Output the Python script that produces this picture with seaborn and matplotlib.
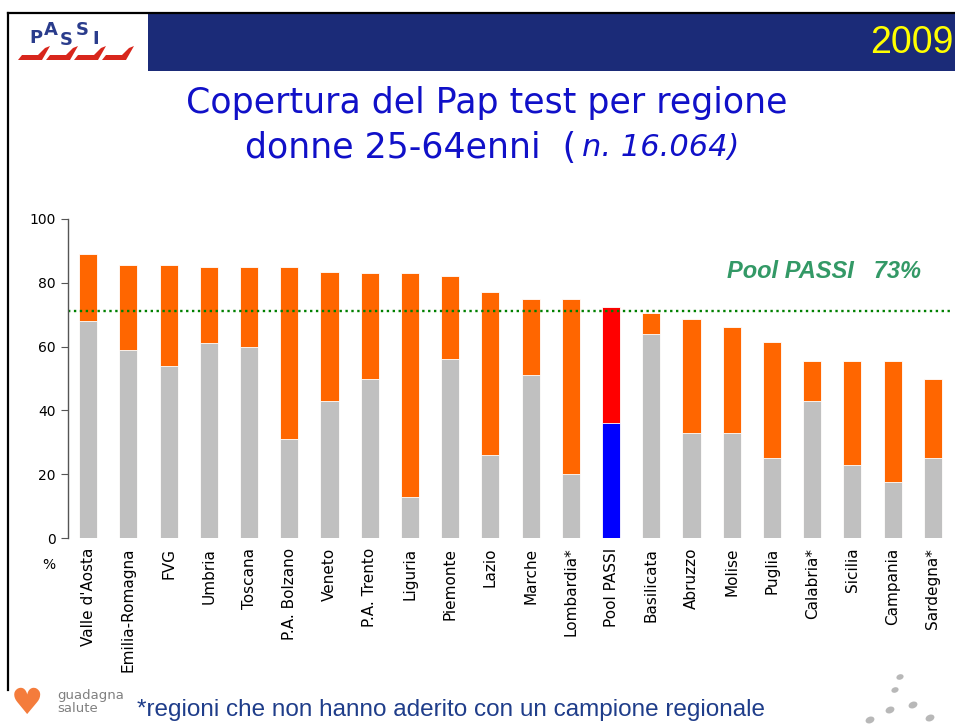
import numpy as np
import pandas as pd
import matplotlib
matplotlib.use("Agg")
import matplotlib.pyplot as plt
import seaborn as sns
from matplotlib.patches import Rectangle, Polygon, Ellipse
from matplotlib.lines import Line2D

# dati
regioni = ["Valle d'Aosta", "Emilia-Romagna", "FVG", "Umbria", "Toscana",
           "P.A. Bolzano", "Veneto", "P.A. Trento", "Liguria", "Piemonte",
           "Lazio", "Marche", "Lombardia*", "Pool PASSI", "Basilicata",
           "Abruzzo", "Molise", "Puglia", "Calabria*", "Sicilia",
           "Campania", "Sardegna*"]
totale = [89, 85.5, 85.5, 85, 85, 85, 83.5, 83, 83, 82,
          77, 75, 75, 72.5, 70.5, 68.5, 66, 61.5, 55.5, 55.5,
          55.5, 50]
organizzato = [68, 59, 54, 61, 60, 31, 43, 50, 13, 56,
               26, 51, 20, 36, 64, 33, 33, 25, 43, 23,
               17.5, 25]
pool_line = 71.3
yticks = [0, 20, 40, 60, 80, 100]

df = pd.DataFrame({"regione": regioni, "totale": totale, "organizzato": organizzato})
col_top = ["#FF0000" if r == "Pool PASSI" else "#FF6600" for r in regioni]
col_bot = ["#0000FF" if r == "Pool PASSI" else "#C0C0C0" for r in regioni]

W, H = 955, 724
fig = plt.figure(figsize=(W / 100, H / 100), dpi=100)
fig.patch.set_facecolor("white")

def fx(x):
    return x / W

def fy(y):
    return 1 - y / H

# cornice e intestazione
fig.add_artist(Line2D([fx(8), fx(8)], [fy(13), fy(690)], color="black", lw=1.6))
fig.add_artist(Line2D([fx(8), 1], [fy(13), fy(13)], color="black", lw=1.6))
fig.add_artist(Rectangle((fx(148), fy(71)), 1 - fx(148), (71 - 14) / H,
                         facecolor="#1B2B78", edgecolor="none"))
fig.text(fx(953), fy(43), "2009", color="#FFFF00", fontsize=27,
         ha="right", va="center", family="Liberation Sans")

# logo PASSI (approssimato)
for ch, x, y in [("P", 36, 38), ("A", 51, 30), ("S", 66, 40), ("S", 82, 30), ("I", 96, 39)]:
    fig.text(fx(x), fy(y), ch, color="#2A3C8C", fontsize=13, fontweight="bold",
             ha="center", va="center", family="DejaVu Sans")
for x0 in [18, 46, 74, 102]:
    pts = [(x0, 60), (x0 + 24, 60), (x0 + 32, 46), (x0 + 27, 48), (x0 + 20, 55), (x0 + 4, 55)]
    fig.add_artist(Polygon([(fx(a), fy(b)) for a, b in pts], closed=True,
                           facecolor="#D8261C", edgecolor="none"))

# titolo
fig.text(fx(487), fy(103), "Copertura del Pap test per regione", color="#1010C8",
         fontsize=25, ha="center", va="center")
fig.text(fx(576), fy(148), "donne 25-64enni  (", color="#1010C8",
         fontsize=25, ha="right", va="center")
fig.text(fx(582), fy(148), "n. 16.064)", color="#1010C8",
         fontsize=22, style="italic", ha="left", va="center")

# grafico
ax = fig.add_axes([fx(68), fy(538), (953 - 68) / W, (538 - 219) / H])
sns.barplot(data=df, x="regione", y="totale", hue="regione", palette=col_top,
            legend=False, width=0.45, saturation=1, ax=ax,
            edgecolor="white", linewidth=0.6)
sns.barplot(data=df, x="regione", y="organizzato", hue="regione", palette=col_bot,
            legend=False, width=0.45, saturation=1, ax=ax,
            edgecolor="white", linewidth=0.6)
ax.axhline(pool_line, color="#008000", ls=(0, (1, 1.5)), lw=1.7, clip_on=False)
ax.set_xlim(-0.5, 21.5)
ax.set_ylim(0, 100)
ax.set_yticks(yticks)
ax.set_xlabel("")
ax.set_ylabel("")
for s in ["top", "right", "bottom"]:
    ax.spines[s].set_visible(False)
ax.spines["left"].set_color("#555555")
ax.spines["left"].set_linewidth(1)
ax.tick_params(axis="y", length=5, color="#555555", labelsize=10, pad=4)
ax.tick_params(axis="x", length=0, labelsize=11, pad=7, labelrotation=90)
ax.set_facecolor("none")

fig.text(fx(727), fy(271), "Pool PASSI   73%", color="#339966", fontsize=17,
         fontweight="bold", style="italic", ha="left", va="center",
         family="Liberation Sans")
fig.text(fx(49), fy(565), "%", fontsize=10, ha="center", va="center")

# piè di pagina
fig.text(fx(27), fy(704), "\u2665", color="#F47C3C", fontsize=26, ha="center", va="center")
fig.text(fx(57), fy(695), "guadagna", color="#808080", fontsize=9.5, ha="left", va="center")
fig.text(fx(57), fy(709), "salute", color="#808080", fontsize=9.5, ha="left", va="center")
fig.text(fx(137), fy(710), "*regioni che non hanno aderito con un campione regionale",
         color="#1F3D8A", fontsize=17.5, ha="left", va="center", family="Liberation Sans")
for x, y, w, h in [(900, 677, 8, 5), (895, 690, 8, 5), (913, 705, 10, 6),
                   (890, 710, 10, 6), (870, 720, 10, 6), (930, 718, 10, 6)]:
    fig.add_artist(Ellipse((fx(x), fy(y)), w / W, h / H, angle=50,
                           facecolor="#B8B8B8", edgecolor="none"))

fig.savefig("out.png", dpi=100)
